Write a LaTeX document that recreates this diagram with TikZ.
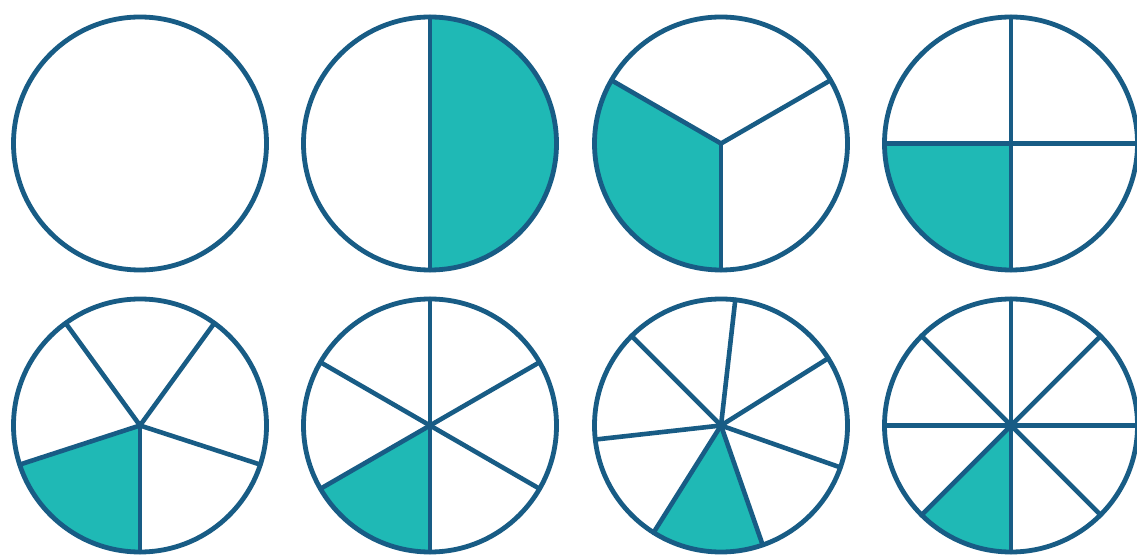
\documentclass[tikz,border=0pt]{standalone}
\definecolor{edgeblue}{HTML}{185C85}
\definecolor{tealfill}{HTML}{1FB9B5}
\begin{document}
\begin{tikzpicture}[x=1pt,y=1pt,
  rim/.style={draw=edgeblue, line width=4.8pt},
  spoke/.style={draw=edgeblue, line width=4.6pt, line cap=round},
  wedge/.style={fill=tealfill}]
\def\R{126.5}
\useasboundingbox (0,0) rectangle (1137,554);
\fill[white] (0,0) rectangle (1137,554);
\coordinate (c1) at (140,410.5);
\coordinate (c2) at (430,410.5);
\coordinate (c3) at (721,410.5);
\coordinate (c4) at (1011,410.5);
\coordinate (c5) at (140,128.5);
\coordinate (c6) at (430,128.5);
\coordinate (c7) at (721,128.5);
\coordinate (c8) at (1011,128.5);
% wedges
\fill[wedge] (c2) -- ++(-90:\R) arc[start angle=-90, end angle=90, radius=\R] -- cycle;
\fill[wedge] (c3) -- ++(150:\R) arc[start angle=150, end angle=270, radius=\R] -- cycle;
\fill[wedge] (c4) -- ++(180:\R) arc[start angle=180, end angle=270, radius=\R] -- cycle;
\fill[wedge] (c5) -- ++(198:\R) arc[start angle=198, end angle=270, radius=\R] -- cycle;
\fill[wedge] (c6) -- ++(210:\R) arc[start angle=210, end angle=270, radius=\R] -- cycle;
\fill[wedge] (c7) -- ++(-122.2:\R) arc[start angle=-122.2, end angle=-70.77, radius=\R] -- cycle;
\fill[wedge] (c8) -- ++(225:\R) arc[start angle=225, end angle=270, radius=\R] -- cycle;
% spokes
\foreach \a in {90,270} \draw[spoke] (c2) -- ++(\a:\R);
\foreach \a in {30,150,270} \draw[spoke] (c3) -- ++(\a:\R);
\foreach \a in {0,90,180,270} \draw[spoke] (c4) -- ++(\a:\R);
\foreach \a in {270,342,54,126,198} \draw[spoke] (c5) -- ++(\a:\R);
\foreach \a in {30,90,150,210,270,330} \draw[spoke] (c6) -- ++(\a:\R);
\foreach \k in {0,...,6} \draw[spoke] (c7) -- ++({-122.2+51.4286*\k}:\R);
\foreach \a in {0,45,...,315} \draw[spoke] (c8) -- ++(\a:\R);
% rims
\foreach \i in {1,...,8} \draw[rim] (c\i) circle[radius=\R];
\end{tikzpicture}
\end{document}
